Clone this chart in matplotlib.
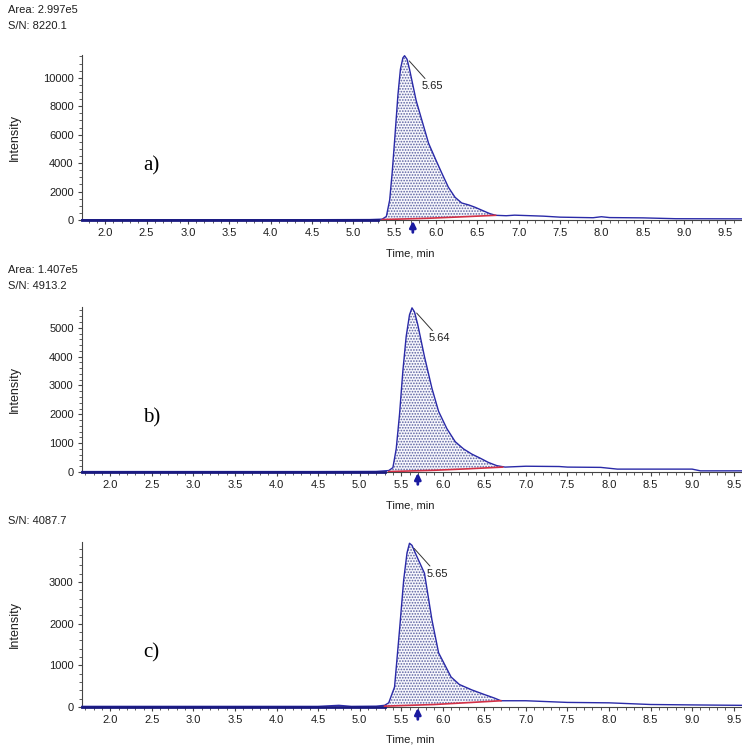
import numpy as np
import matplotlib
matplotlib.use("Agg")
import matplotlib.pyplot as plt
from matplotlib.ticker import MultipleLocator

plt.rcParams['font.family'] = ['Liberation Sans', 'DejaVu Sans']
plt.rcParams['hatch.linewidth'] = 0.8

# -----------------------------
# Daten
# -----------------------------
time_a = [1.72, 2.5, 3.5, 4.5, 5.2, 5.35, 5.40, 5.44, 5.47, 5.50, 5.54, 5.57,
          5.60, 5.62, 5.65, 5.68, 5.72, 5.76, 5.84, 5.91, 6.00, 6.07, 6.15,
          6.23, 6.31, 6.40, 6.47, 6.55, 6.65, 6.72, 6.85, 6.95, 7.15, 7.3,
          7.5, 7.9, 8.0, 8.1, 8.5, 8.9, 9.7]
int_a = [20, 20, 20, 20, 30, 60, 250, 1400, 3300, 5600, 8800, 10600,
         11400, 11550, 11300, 10600, 9500, 8400, 6800, 5400, 4200, 3300, 2300,
         1600, 1200, 1050, 900, 700, 450, 330, 300, 340, 300, 270,
         200, 160, 230, 170, 150, 90, 80]
base_t_a = [5.35, 5.9, 6.3, 6.72]
base_i_a = [30, 120, 220, 330]

time_b = [1.66, 2.5, 3.5, 4.5, 5.2, 5.35, 5.40, 5.44, 5.48, 5.52, 5.56, 5.60,
          5.63, 5.66, 5.70, 5.78, 5.87, 5.95, 6.05, 6.15, 6.25, 6.35, 6.45,
          6.55, 6.65, 6.75, 7.0, 7.4, 7.5, 7.9, 8.1, 9.0, 9.1, 9.6]
int_b = [15, 15, 15, 15, 20, 50, 150, 800, 2000, 3500, 4700, 5450,
         5690, 5550, 5100, 4000, 2900, 2100, 1500, 1050, 800, 620, 480,
         330, 220, 170, 200, 190, 170, 160, 100, 100, 40, 40]
base_t_b = [5.35, 5.9, 6.3, 6.72]
base_i_b = [15, 60, 110, 170]

time_c = [1.66, 2.5, 3.5, 4.5, 4.75, 4.9, 5.2, 5.30, 5.35, 5.42, 5.48, 5.53,
          5.57, 5.60, 5.63, 5.68, 5.78, 5.87, 5.95, 6.10, 6.20, 6.35, 6.50,
          6.62, 6.70, 7.0, 7.5, 8.0, 8.5, 9.0, 9.6]
int_c = [15, 15, 15, 15, 40, 15, 20, 40, 100, 480, 1850, 3050,
         3700, 3930, 3880, 3650, 3210, 2090, 1300, 720, 540, 410, 300,
         215, 150, 150, 110, 100, 60, 50, 40]
base_t_c = [5.30, 5.9, 6.35, 6.70]
base_i_c = [20, 60, 110, 150]

panels = [
    dict(t=time_a, y=int_a, bt=base_t_a, bi=base_i_a, ylim=11600,
         xlim=(1.72, 9.7), major=2000, minor=500, rt=5.65, arrow=5.72,
         label='a)', head=['Area: 2.997e5', 'S/N: 8220.1']),
    dict(t=time_b, y=int_b, bt=base_t_b, bi=base_i_b, ylim=5720,
         xlim=(1.66, 9.6), major=1000, minor=200, rt=5.64, arrow=5.70,
         label='b)', head=['Area: 1.407e5', 'S/N: 4913.2']),
    dict(t=time_c, y=int_c, bt=base_t_c, bi=base_i_c, ylim=3960,
         xlim=(1.66, 9.6), major=1000, minor=200, rt=5.65, arrow=5.70,
         label='c)', head=['S/N: 4087.7']),
]

# Layout in Pixel (742 x 746)
W, H = 742, 746
ax_left, ax_right = 82, 742
ax_tops = [55, 307, 542]
ax_bots = [220, 472, 707]
head_y = [[10, 26], [270, 286], [521]]

BLUE = '#2a2aa8'
RED = '#d23046'
TXT = '#1e1e1e'

fig = plt.figure(figsize=(W / 100, H / 100), dpi=100)

for k, p in enumerate(panels):
    top, bot = ax_tops[k], ax_bots[k]
    ax = fig.add_axes([ax_left / W, 1 - bot / H, (ax_right - ax_left) / W,
                       (bot - top) / H])

    t = np.array(p['t'])
    y = np.array(p['y'])

    # Fläche unter dem Peak (gepunktet)
    bt0, bt1 = p['bt'][0], p['bt'][-1]
    m = (t >= bt0) & (t <= bt1)
    tt = np.concatenate([[bt0], t[m], [bt1]])
    yy = np.interp(tt, t, y)
    bb = np.interp(tt, p['bt'], p['bi'])
    ax.fill_between(tt, bb, yy, facecolor='#f7f7fc', edgecolor='#5a60a0',
                    hatch='......', linewidth=0)

    ax.plot(t, y, color=BLUE, lw=1.0, clip_on=False, zorder=3)
    ax.plot([p['xlim'][0], 5.3], [0, 0], color='#1a1a80', lw=2.0,
            clip_on=False, zorder=3)
    ax.plot(p['bt'], p['bi'], color=RED, lw=1.2, zorder=4)

    ax.set_xlim(*p['xlim'])
    ax.set_ylim(0, p['ylim'])

    for s in ['top', 'right']:
        ax.spines[s].set_visible(False)
    for s in ['left', 'bottom']:
        ax.spines[s].set_color('#444444')
        ax.spines[s].set_linewidth(0.8)

    ax.xaxis.set_major_locator(MultipleLocator(0.5))
    ax.xaxis.set_minor_locator(MultipleLocator(0.1))
    ax.yaxis.set_major_locator(MultipleLocator(p['major']))
    ax.yaxis.set_minor_locator(MultipleLocator(p['minor']))
    ax.xaxis.set_major_formatter(plt.FuncFormatter(lambda v, _: f'{v:.1f}'))
    ax.tick_params(axis='both', which='major', labelsize=8, length=3,
                   width=0.8, color='#444444', labelcolor=TXT, pad=3)
    ax.tick_params(axis='both', which='minor', length=2, width=0.6,
                   color='#444444')

    ax.set_xlabel('Time, min', fontsize=8, color=TXT)
    ax.xaxis.set_label_coords(0.497, -28 / (bot - top))
    ax.set_ylabel('Intensity', fontsize=9, color=TXT)
    ax.yaxis.set_label_coords(-61 / (ax_right - ax_left), 0.5)

    # Peak-Beschriftung
    ipk = int(np.argmax(y))
    ax.annotate(f"{p['rt']:.2f}", xy=(t[ipk], y[ipk]),
                xytext=(12, -22), textcoords='offset points',
                fontsize=8, color=TXT, ha='left', va='center',
                arrowprops=dict(arrowstyle='-', color='#333333', lw=0.7,
                                shrinkA=0, shrinkB=5))

    # Pfeil unter der Achse
    ax.annotate('', xy=(p['arrow'], -0.005), xycoords=('data', 'axes fraction'),
                xytext=(p['arrow'], -0.075), textcoords=('data', 'axes fraction'),
                arrowprops=dict(arrowstyle='-|>', color='#1a1aa0', lw=2.0,
                                mutation_scale=9, shrinkA=0, shrinkB=0))

    ax.text(0.105, 0.33, p['label'], transform=ax.transAxes,
            fontsize=15, family='Liberation Serif', ha='center', va='center')

    for txt, hy in zip(p['head'], head_y[k]):
        fig.text(8 / W, 1 - hy / H, txt, fontsize=8, color=TXT,
                 ha='left', va='center')

fig.savefig('out.png', dpi=100)
